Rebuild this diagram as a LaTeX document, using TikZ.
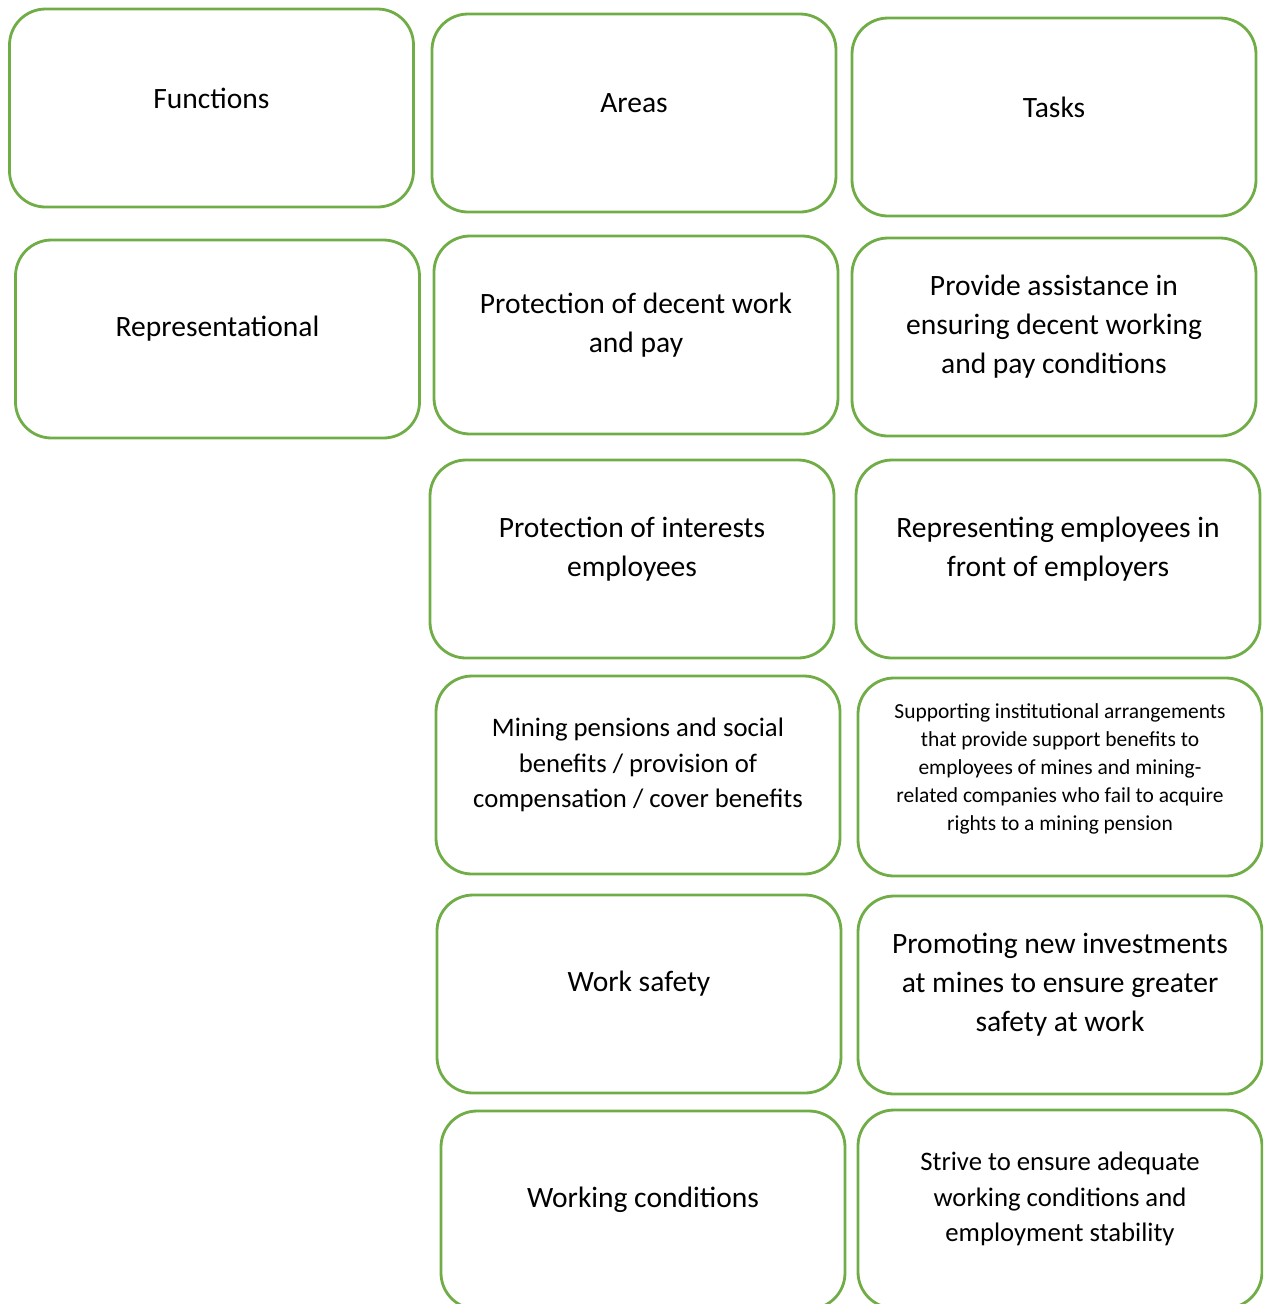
\documentclass[tikz,border=0pt]{standalone}
\usepackage{fontspec}
\setmainfont{Carlito}
\definecolor{cellgreen}{HTML}{70AD47}
\begin{document}
\begin{tikzpicture}[
    cell/.style={draw=cellgreen,line width=0.8pt,rounded corners=0.36cm,
        minimum width=4.04cm,minimum height=1.98cm,inner sep=0pt},
    txt/.style={align=center,font=\fontsize{8.4}{11.1}\selectfont},
    txtsmall/.style={align=center,font=\fontsize{7.6}{10}\selectfont},
    txttiny/.style={align=center,font=\fontsize{6.1}{8}\selectfont}]
    \useasboundingbox (0,0) rectangle (12.63,-13.04);
    \clip (0,0) rectangle (12.63,-13.04);

    % Headers
    \node [cell] (functions) at (2.115,-1.08) {};
    \node [txt] (functionsT) at ([yshift=0.1cm]functions.center) {Functions};
    \node [cell] (areas) at (6.34,-1.13) {};
    \node [txt] (areasT) at ([yshift=0.1cm]areas.center) {Areas};
    \node [cell] (tasks) at (10.54,-1.17) {};
    \node [txt] (tasksT) at ([yshift=0.1cm]tasks.center) {Tasks};

    % Function
    \node [cell] (repr) at (2.175,-3.39) {};
    \node [txt] (reprT) at ([yshift=0.1cm]repr.center) {Representational};

    % Areas
    \node [cell] (decent) at (6.36,-3.35) {};
    \node [txt] (decentT) at ([yshift=0.1cm]decent.center)
        {Protection of decent work\\and pay};
    \node [cell] (interests) at (6.32,-5.59) {};
    \node [txt] (interestsT) at ([yshift=0.1cm]interests.center)
        {Protection of interests\\employees};
    \node [cell] (pensions) at (6.38,-7.75) {};
    \node [txtsmall] (pensionsT) at ([yshift=0.1cm]pensions.center)
        {Mining pensions and social\\benefits / provision of\\compensation / cover benefits};
    \node [cell] (safety) at (6.39,-9.94) {};
    \node [txt] (safetyT) at ([yshift=0.1cm]safety.center) {Work safety};
    \node [cell] (conditions) at (6.43,-12.10) {};
    \node [txt] (conditionsT) at ([yshift=0.1cm]conditions.center)
        {Working conditions};

    % Tasks
    \node [cell] (assist) at (10.54,-3.37) {};
    \node [txt] (assistT) at ([yshift=0.1cm]assist.center)
        {Provide assistance in\\ensuring decent working\\and pay conditions};
    \node [cell] (represent) at (10.58,-5.59) {};
    \node [txt] (representT) at ([yshift=0.1cm]represent.center)
        {Representing employees in\\front of employers};
    \node [cell] (support) at (10.60,-7.77) {};
    \node [txttiny] (supportT) at ([yshift=0.08cm]support.center)
        {Supporting institutional arrangements\\that provide support benefits to\\employees of mines and mining-\\related companies who fail to acquire\\rights to a mining pension};
    \node [cell] (invest) at (10.60,-9.95) {};
    \node [txt] (investT) at ([yshift=0.1cm]invest.center)
        {Promoting new investments\\at mines to ensure greater\\safety at work};
    \node [cell] (strive) at (10.60,-12.09) {};
    \node [txtsmall] (striveT) at ([yshift=0.1cm]strive.center)
        {Strive to ensure adequate\\working conditions and\\employment stability};
\end{tikzpicture}
\end{document}
